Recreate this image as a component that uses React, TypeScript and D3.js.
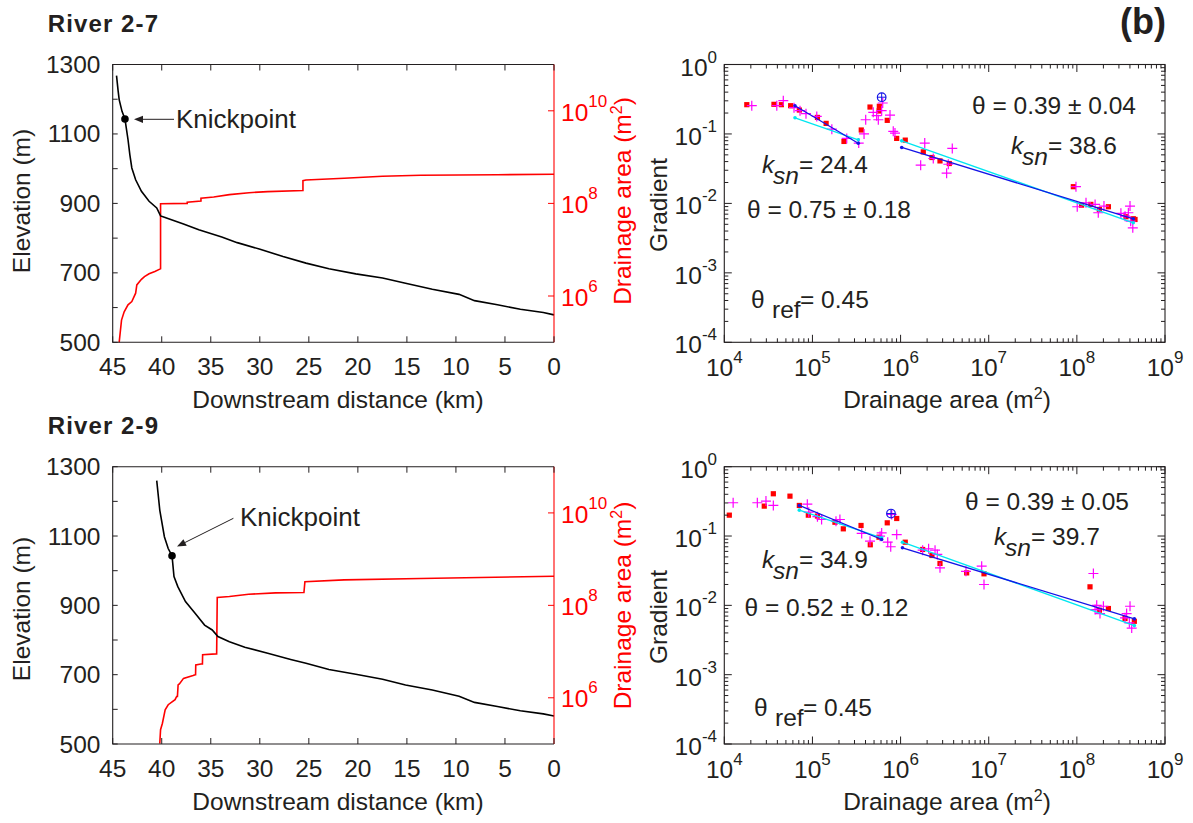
import React from "react";
import * as d3 from "d3";

const W = 1193;
const H = 823;
const FONT = "'Liberation Sans', Arial, Helvetica, sans-serif";
const INK = "#231f20";
const RED = "#ff0000";
const MAGENTA = "#ff00ff";
const BLUE = "#1414e6";
const CYAN = "#00e6f0";

// ---------------- Longitudinal profile panels ----------------
const distanceTicks = [45, 40, 35, 30, 25, 20, 15, 10, 5, 0];
const elevationTicks = [500, 600, 700, 800, 900, 1000, 1100, 1200, 1300];
const elevationLabels = [500, 700, 900, 1100, 1300];
const areaAxisTicks = [1e6, 1e8, 1e10];

// River 2-7 elevation profile (km, m)
const r27ElevDist = [44.61, 44.45, 44.34, 44.05, 43.75, 43.44, 43.25, 43.05, 42.66, 42.07, 41.29, 40.51, 40.12, 39.73, 37.78, 36.22, 33.88, 32.3, 29.97, 27.63, 25.29, 22.95, 20.21, 17.48, 15.14, 12.41, 9.68, 8.11, 5.77, 3.43, 1.09, 0];
const r27Elev = [1268, 1225, 1199, 1165, 1143, 1084, 1040, 1002, 968, 935, 906, 887, 864, 860, 841, 824, 803, 787, 768, 747, 728, 712, 697, 685, 670, 653, 638, 620, 608, 595, 586, 579];
// River 2-7 drainage area (km, m2)
const r27AreaDist = [44.34, 44.1, 43.83, 43.44, 43.05, 42.66, 42.54, 42.07, 41.76, 41.29, 40.7, 40.2, 40.12, 40.12, 37.4, 37.4, 36.0, 36.0, 34.7, 33.1, 31.1, 29.2, 25.6, 25.6, 25.3, 21.4, 17.5, 13.6, 5.8, 0];
const r27Area = [1.0e5, 3.02e5, 4.57e5, 6.46e5, 7.59e5, 1.15e6, 1.74e6, 2.29e6, 2.63e6, 3.02e6, 3.39e6, 3.8e6, 3.89e6, 9.8e7, 1.0e8, 1.06e8, 1.12e8, 1.3e8, 1.38e8, 1.55e8, 1.7e8, 1.8e8, 1.9e8, 3.1e8, 3.2e8, 3.5e8, 3.85e8, 4.05e8, 4.17e8, 4.27e8];
const r27Knick = [43.75, 1143];

// River 2-9 elevation profile
const r29ElevDist = [40.51, 40.2, 39.73, 39.34, 38.95, 38.75, 38.36, 37.58, 36.6, 35.63, 34.85, 34.27, 33.1, 31.53, 29.19, 26.85, 25.29, 22.95, 20.21, 17.48, 15.14, 12.41, 9.68, 8.11, 5.77, 3.43, 1.09, 0];
const r29Elev = [1260, 1175, 1098, 1064, 1043, 983, 954, 911, 877, 843, 829, 810, 795, 779, 762, 744, 733, 715, 701, 687, 670, 656, 638, 620, 608, 596, 587, 581];
// River 2-9 drainage area
const r29AreaDist = [40.2, 40.12, 39.93, 39.65, 39.34, 38.64, 38.48, 38.4, 38.33, 38.2, 37.78, 36.8, 36.6, 36.55, 36.53, 36.0, 35.85, 35.83, 34.46, 34.4, 34.34, 33.1, 31.14, 28.4, 25.56, 25.5, 25.4, 21.4, 13.6, 0];
const r29Area = [1.02e5, 2.04e5, 2.82e5, 5.5e5, 7.08e5, 9.1e5, 1.07e6, 1.07e6, 1.9e6, 2.0e6, 2.63e6, 3.02e6, 3.16e6, 3.16e6, 5.13e6, 5.37e6, 5.37e6, 8.51e6, 8.91e6, 8.91e6, 1.48e8, 1.55e8, 1.74e8, 1.86e8, 1.9e8, 1.9e8, 3.24e8, 3.55e8, 3.8e8, 4.27e8];
const r29Knick = [38.95, 1043];

// ---------------- Slope-area panels ----------------
// River 2-7: binned (red squares)
const s27SqArea = [1.8e4, 3.66e4, 4.44e4, 5.66e4, 7.1e4, 1.14e5, 1.43e5, 2.28e5, 3.58e5, 4.5e5, 5.74e5, 5.7e5, 7.06e5, 9.03e5, 1.13e6, 1.81e6, 2.27e6, 2.8e6, 3.57e6, 9.12e7, 1.13e8, 1.44e8, 1.8e8, 2.28e8, 3.61e8, 4.37e8, 4.57e8];
const s27SqGrad = [0.264, 0.267, 0.264, 0.255, 0.221, 0.173, 0.142, 0.078, 0.114, 0.244, 0.25, 0.214, 0.157, 0.0863, 0.0815, 0.0552, 0.0458, 0.0409, 0.0375, 0.0174, 0.00944, 0.00968, 0.00818, 0.00895, 0.00643, 0.00601, 0.00587];
// River 2-7: raw (magenta crosses)
const s27CrArea = [2.05e4, 3.94e4, 4.67e4, 6.18e4, 7.23e4, 8.45e4, 1.12e5, 1.66e5, 2.45e5, 3.35e5, 3.85e5, 4.02e5, 4.9e5, 5.35e5, 5.59e5, 6.1e5, 6.27e5, 7.59e5, 8.26e5, 8.64e5, 1.88e6, 1.69e6, 2.35e6, 3.33e6, 3.86e6, 3.48e6, 9.77e7, 1.01e8, 1.27e8, 1.61e8, 1.75e8, 2.03e8, 4.01e8, 3.84e8, 3.52e8, 4.08e8, 4.31e8, 3.16e8];
const s27CrGrad = [0.255, 0.255, 0.301, 0.239, 0.216, 0.196, 0.179, 0.117, 0.0863, 0.0738, 0.1, 0.16, 0.205, 0.183, 0.16, 0.216, 0.279, 0.187, 0.109, 0.103, 0.0738, 0.0355, 0.0443, 0.0272, 0.0618, 0.0366, 0.0174, 0.00895, 0.0102, 0.00968, 0.00734, 0.00914, 0.00914, 0.00734, 0.00655, 0.00555, 0.00445, 0.0072];
const s27Knick = [6.1e5, 0.338];
// fitted segments: regression (blue) and reference-concavity (cyan)
const s27BlueArea = [[6.34e4, 3.31e5], [1.03e6, 4.37e8]];
const s27BlueGrad = [[0.255, 0.0736], [0.0639, 0.00601]];
const s27CyanArea = [[6.34e4, 3.31e5], [1.03e6, 4.37e8]];
const s27CyanGrad = [[0.171, 0.0823], [0.0796, 0.00526]];

// River 2-9
const s29SqArea = [1.14e4, 2.84e4, 3.6e4, 5.56e4, 7.1e4, 8.98e4, 1.14e5, 1.8e5, 2.24e5, 3.56e5, 4.53e5, 5.69e5, 7.06e5, 9.04e5, 1.13e6, 1.78e6, 2.27e6, 2.8e6, 5.62e6, 8.84e6, 1.41e8, 1.8e8, 2.28e8, 3.52e8, 4.49e8];
const s29SqGrad = [0.2, 0.27, 0.407, 0.376, 0.276, 0.2, 0.194, 0.158, 0.127, 0.142, 0.0748, 0.0962, 0.155, 0.179, 0.0815, 0.064, 0.0524, 0.0402, 0.0294, 0.0285, 0.0185, 0.0085, 0.009, 0.00645, 0.00589];
const s29CrArea = [1.26e4, 2.37e4, 2.97e4, 3.6e4, 8.75e4, 9.08e4, 1.14e5, 1.27e5, 1.85e5, 2.05e5, 3.62e5, 4.5e5, 5.85e5, 6.1e5, 7.15e5, 7.73e5, 9.04e5, 7.93e5, 1.78e6, 2.08e6, 2.46e6, 2.61e6, 2.8e6, 5.52e6, 8.32e6, 8.84e6, 1.54e8, 1.68e8, 1.61e8, 1.83e8, 2.0e8, 4.01e8, 3.67e8, 3.52e8, 3.94e8, 4.19e8];
const s29CrGrad = [0.302, 0.302, 0.319, 0.276, 0.288, 0.221, 0.19, 0.173, 0.164, 0.173, 0.109, 0.0843, 0.0995, 0.111, 0.0815, 0.07, 0.105, 0.205, 0.0625, 0.0655, 0.0625, 0.0542, 0.0348, 0.031, 0.0367, 0.02, 0.0288, 0.01, 0.0087, 0.0076, 0.0097, 0.0097, 0.0076, 0.0066, 0.0056, 0.0047];
const s29Knick = [7.78e5, 0.211];
const s29BlueArea = [[7.1e4, 6.1e5], [1.05e6, 4.49e8]];
const s29BlueGrad = [[0.276, 0.0891], [0.0676, 0.00638]];
const s29CyanArea = [[7.1e4, 6.1e5], [1.05e6, 4.49e8]];
const s29CyanGrad = [[0.236, 0.0944], [0.0815, 0.0051]];

// text annotations
const s27Texts = { theta2: "θ = 0.39 ± 0.04", ksn2: "= 38.6", ksn1: "= 24.4", theta1: "θ = 0.75 ± 0.18", ref: "= 0.45" };
const s29Texts = { theta2: "θ = 0.39 ± 0.05", ksn2: "= 39.7", ksn1: "= 34.9", theta1: "θ = 0.52 ± 0.12", ref: "= 0.45" };

// ---------------- layout ----------------
const LX0 = 112.7, LX1 = 554;
const RX0 = 724.3, RX1 = 1165;
const FS = 24.5;

function isMajor(v) {
  const l = Math.log10(v);
  return Math.abs(l - Math.round(l)) < 1e-6;
}

function Profile(p) {
  const { top, bottom, title, elevDist, elev, areaDist, area, knick, arrowFrom, arrowTip, textPos, elevLabelY, areaLabelY } = p;
  const x = d3.scaleLinear().domain([45, 0]).range([LX0, LX1]);
  const y = d3.scaleLinear().domain([500, 1300]).range([bottom, top]);
  const ya = d3.scaleLog().domain([1e5, 1e11]).range([bottom, top]);
  const line = d3.line();
  const elevPath = line(elevDist.map((d, i) => [x(d), y(elev[i])]));
  const areaPath = line(areaDist.map((d, i) => [x(d), ya(area[i])]));
  const dx = arrowTip[0] - arrowFrom[0];
  const dy = arrowTip[1] - arrowFrom[1];
  const len = Math.hypot(dx, dy);
  const ux = dx / len, uy = dy / len;
  const hl = 9, hw = 3.6;
  const bx = arrowTip[0] - ux * hl, by = arrowTip[1] - uy * hl;
  const head = `M${arrowTip[0]},${arrowTip[1]}L${bx - uy * hw},${by + ux * hw}L${bx + uy * hw},${by - ux * hw}Z`;
  return (
    <g>
      <text x={47.8} y={top - 33} fontSize={24} fontWeight="bold" letterSpacing={1.1} fill={INK}>{title}</text>
      {/* curves */}
      <path d={areaPath} fill="none" stroke={RED} strokeWidth={1.6} />
      <path d={elevPath} fill="none" stroke="#000" strokeWidth={1.6} />
      {/* frame */}
      <path d={`M${LX1},${top}H${LX0}V${bottom}H${LX1}`} fill="none" stroke={INK} strokeWidth={1.1} />
      <line x1={LX1} x2={LX1} y1={top} y2={bottom} stroke={RED} strokeWidth={1.1} />
      {distanceTicks.map((t) => (
        <g key={"d" + t}>
          <line x1={x(t)} x2={x(t)} y1={bottom} y2={bottom - 6} stroke={INK} strokeWidth={1} />
          <line x1={x(t)} x2={x(t)} y1={top} y2={top + 6} stroke={INK} strokeWidth={1} />
          <text x={x(t)} y={bottom + 33} fontSize={FS} textAnchor="middle" fill={INK}>{t}</text>
        </g>
      ))}
      {elevationTicks.map((t) => (
        <line key={"e" + t} x1={LX0} x2={LX0 + 5} y1={y(t)} y2={y(t)} stroke={INK} strokeWidth={1} />
      ))}
      {elevationLabels.map((t) => (
        <text key={"el" + t} x={100.5} y={y(t) + 8.5} fontSize={FS} textAnchor="end" fill={INK}>{t}</text>
      ))}
      {areaAxisTicks.map((t) => (
        <g key={"a" + t}>
          <line x1={LX1} x2={LX1 - 6} y1={ya(t)} y2={ya(t)} stroke={RED} strokeWidth={1} />
          <text x={561} y={ya(t) + 9.7} fontSize={FS} fill={RED}>
            <tspan>10</tspan>
            <tspan dy={-14} fontSize={17}>{Math.round(Math.log10(t))}</tspan>
          </text>
        </g>
      ))}
      {/* axis titles */}
      <text transform={`translate(29.5,${elevLabelY}) rotate(-90)`} fontSize={FS} textAnchor="middle" fill={INK}>Elevation (m)</text>
      <text transform={`translate(631,${areaLabelY}) rotate(-90)`} fontSize={FS} textAnchor="middle" fill={RED}>
        <tspan>Drainage area (m</tspan>
        <tspan dy={-9} fontSize={16}>2</tspan>
        <tspan dy={9}>)</tspan>
      </text>
      <text x={338} y={bottom + 66} fontSize={FS} textAnchor="middle" fill={INK}>Downstream distance (km)</text>
      {/* knickpoint */}
      <circle cx={x(knick[0])} cy={y(knick[1])} r={3.8} fill="#000" />
      <line x1={arrowFrom[0]} y1={arrowFrom[1]} x2={bx} y2={by} stroke={INK} strokeWidth={1} />
      <path d={head} fill={INK} />
      <text x={textPos[0]} y={textPos[1]} fontSize={26} fill={INK}>Knickpoint</text>
    </g>
  );
}

function Ksn({ x, y, value }) {
  return (
    <g>
      <text x={x} y={y} fontSize={FS} fill={INK} fontStyle="italic">k</text>
      <text x={x + 11} y={y + 11} fontSize={FS} fill={INK} fontStyle="italic">sn</text>
      <text x={x + 37} y={y} fontSize={FS} fill={INK}>{value}</text>
    </g>
  );
}

function SlopeArea(p) {
  const { top, bottom, sqA, sqS, crA, crS, blueA, blueS, cyanA, cyanS, knick, texts, pos, gradLabelY } = p;
  const x = d3.scaleLog().domain([1e4, 1e9]).range([RX0, RX1]);
  const y = d3.scaleLog().domain([1e-4, 1]).range([bottom, top]);
  const xt = x.ticks();
  const yt = y.ticks();
  const line = d3.line();
  const seg = (A, S, color, k) => (
    <g key={k}>
      <path d={line([[x(A[0]), y(S[0])], [x(A[1]), y(S[1])]])} stroke={color} strokeWidth={1.3} fill="none" />
      <circle cx={x(A[0])} cy={y(S[0])} r={1.8} fill={color} />
      <circle cx={x(A[1])} cy={y(S[1])} r={1.8} fill={color} />
    </g>
  );
  return (
    <g>
      {/* points */}
      {sqA.map((a, i) => (
        <rect key={"s" + i} x={x(a) - 2.6} y={y(sqS[i]) - 2.6} width={5.2} height={5.2} fill={RED} />
      ))}
      {crA.map((a, i) => (
        <path key={"c" + i} d={`M${x(a) - 5},${y(crS[i])}H${x(a) + 5}M${x(a)},${y(crS[i]) - 5}V${y(crS[i]) + 5}`} stroke={MAGENTA} strokeWidth={1.2} fill="none" />
      ))}
      {cyanA.map((A, i) => seg(A, cyanS[i], CYAN, "cy" + i))}
      {blueA.map((A, i) => seg(A, blueS[i], BLUE, "bl" + i))}
      <circle cx={x(knick[0])} cy={y(knick[1])} r={4.3} fill="none" stroke={BLUE} strokeWidth={1.2} />
      <path d={`M${x(knick[0]) - 4.3},${y(knick[1])}H${x(knick[0]) + 4.3}M${x(knick[0])},${y(knick[1]) - 4.3}V${y(knick[1]) + 4.3}`} stroke={BLUE} strokeWidth={1} />
      {/* frame */}
      <rect x={RX0} y={top} width={RX1 - RX0} height={bottom - top} fill="none" stroke={INK} strokeWidth={1.1} />
      {xt.map((t, i) => {
        const L = isMajor(t) ? 7.5 : 4;
        return (
          <g key={"xt" + i}>
            <line x1={x(t)} x2={x(t)} y1={bottom} y2={bottom - L} stroke={INK} strokeWidth={1} />
            <line x1={x(t)} x2={x(t)} y1={top} y2={top + L} stroke={INK} strokeWidth={1} />
            {isMajor(t) && (
              <text x={x(t)} y={bottom + 34} fontSize={FS} textAnchor="middle" fill={INK}>
                <tspan>10</tspan>
                <tspan dy={-13} fontSize={17}>{Math.round(Math.log10(t))}</tspan>
              </text>
            )}
          </g>
        );
      })}
      {yt.map((t, i) => {
        const L = isMajor(t) ? 7.5 : 4;
        return (
          <g key={"yt" + i}>
            <line x1={RX0} x2={RX0 + L} y1={y(t)} y2={y(t)} stroke={INK} strokeWidth={1} />
            <line x1={RX1} x2={RX1 - L} y1={y(t)} y2={y(t)} stroke={INK} strokeWidth={1} />
            {isMajor(t) && (
              <text x={717} y={y(t) + 11} fontSize={FS} textAnchor="end" fill={INK}>
                <tspan>10</tspan>
                <tspan dy={-13} fontSize={17}>{Math.round(Math.log10(t))}</tspan>
              </text>
            )}
          </g>
        );
      })}
      {/* axis titles */}
      <text transform={`translate(667,${gradLabelY}) rotate(-90)`} fontSize={FS} textAnchor="middle" fill={INK}>Gradient</text>
      <text x={947} y={bottom + 66} fontSize={FS} textAnchor="middle" fill={INK}>
        <tspan>Drainage area (m</tspan>
        <tspan dy={-9} fontSize={16}>2</tspan>
        <tspan dy={9}>)</tspan>
      </text>
      {/* annotations */}
      <text x={pos.theta2[0]} y={pos.theta2[1]} fontSize={FS} fill={INK}>{texts.theta2}</text>
      <Ksn x={pos.ksn2[0]} y={pos.ksn2[1]} value={texts.ksn2} />
      <Ksn x={pos.ksn1[0]} y={pos.ksn1[1]} value={texts.ksn1} />
      <text x={pos.theta1[0]} y={pos.theta1[1]} fontSize={FS} fill={INK}>{texts.theta1}</text>
      <text x={pos.ref[0]} y={pos.ref[1]} fontSize={FS} fill={INK}>θ</text>
      <text x={pos.ref[0] + 21} y={pos.ref[1] + 10} fontSize={FS} fill={INK}>ref</text>
      <text x={pos.ref[0] + 49} y={pos.ref[1]} fontSize={FS} fill={INK}>{texts.ref}</text>
    </g>
  );
}

export default function App() {
  return (
    <svg width={W} height={H} viewBox={`0 0 ${W} ${H}`} style={{ position: "absolute", left: 0, top: 0, background: "#fff" }} fontFamily={FONT}>
      <rect width={W} height={H} fill="#fff" />
      <Profile
        top={64.5} bottom={342.3} title="River 2-7"
        elevDist={r27ElevDist} elev={r27Elev} areaDist={r27AreaDist} area={r27Area}
        knick={r27Knick} arrowFrom={[174, 119.3]} arrowTip={[134, 119.3]} textPos={[176, 128]}
        elevLabelY={201} areaLabelY={201}
      />
      <Profile
        top={466.7} bottom={744} title="River 2-9"
        elevDist={r29ElevDist} elev={r29Elev} areaDist={r29AreaDist} area={r29Area}
        knick={r29Knick} arrowFrom={[233.4, 518.3]} arrowTip={[177, 546.5]} textPos={[240, 526]}
        elevLabelY={609} areaLabelY={605.5}
      />
      <SlopeArea
        top={64.5} bottom={342.3}
        sqA={s27SqArea} sqS={s27SqGrad} crA={s27CrArea} crS={s27CrGrad}
        blueA={s27BlueArea} blueS={s27BlueGrad} cyanA={s27CyanArea} cyanS={s27CyanGrad}
        knick={s27Knick} texts={s27Texts} gradLabelY={205}
        pos={{ theta2: [972, 114], ksn2: [1011, 154], ksn1: [762, 173], theta1: [747, 218], ref: [751, 308] }}
      />
      <SlopeArea
        top={466.7} bottom={744}
        sqA={s29SqArea} sqS={s29SqGrad} crA={s29CrArea} crS={s29CrGrad}
        blueA={s29BlueArea} blueS={s29BlueGrad} cyanA={s29CyanArea} cyanS={s29CyanGrad}
        knick={s29Knick} texts={s29Texts} gradLabelY={617}
        pos={{ theta2: [965, 510], ksn2: [994, 545], ksn1: [762, 568], theta1: [744.5, 616], ref: [754, 716] }}
      />
      <text x={1120} y={34} fontSize={36} fontWeight="bold" fill={INK}>(b)</text>
    </svg>
  );
}
